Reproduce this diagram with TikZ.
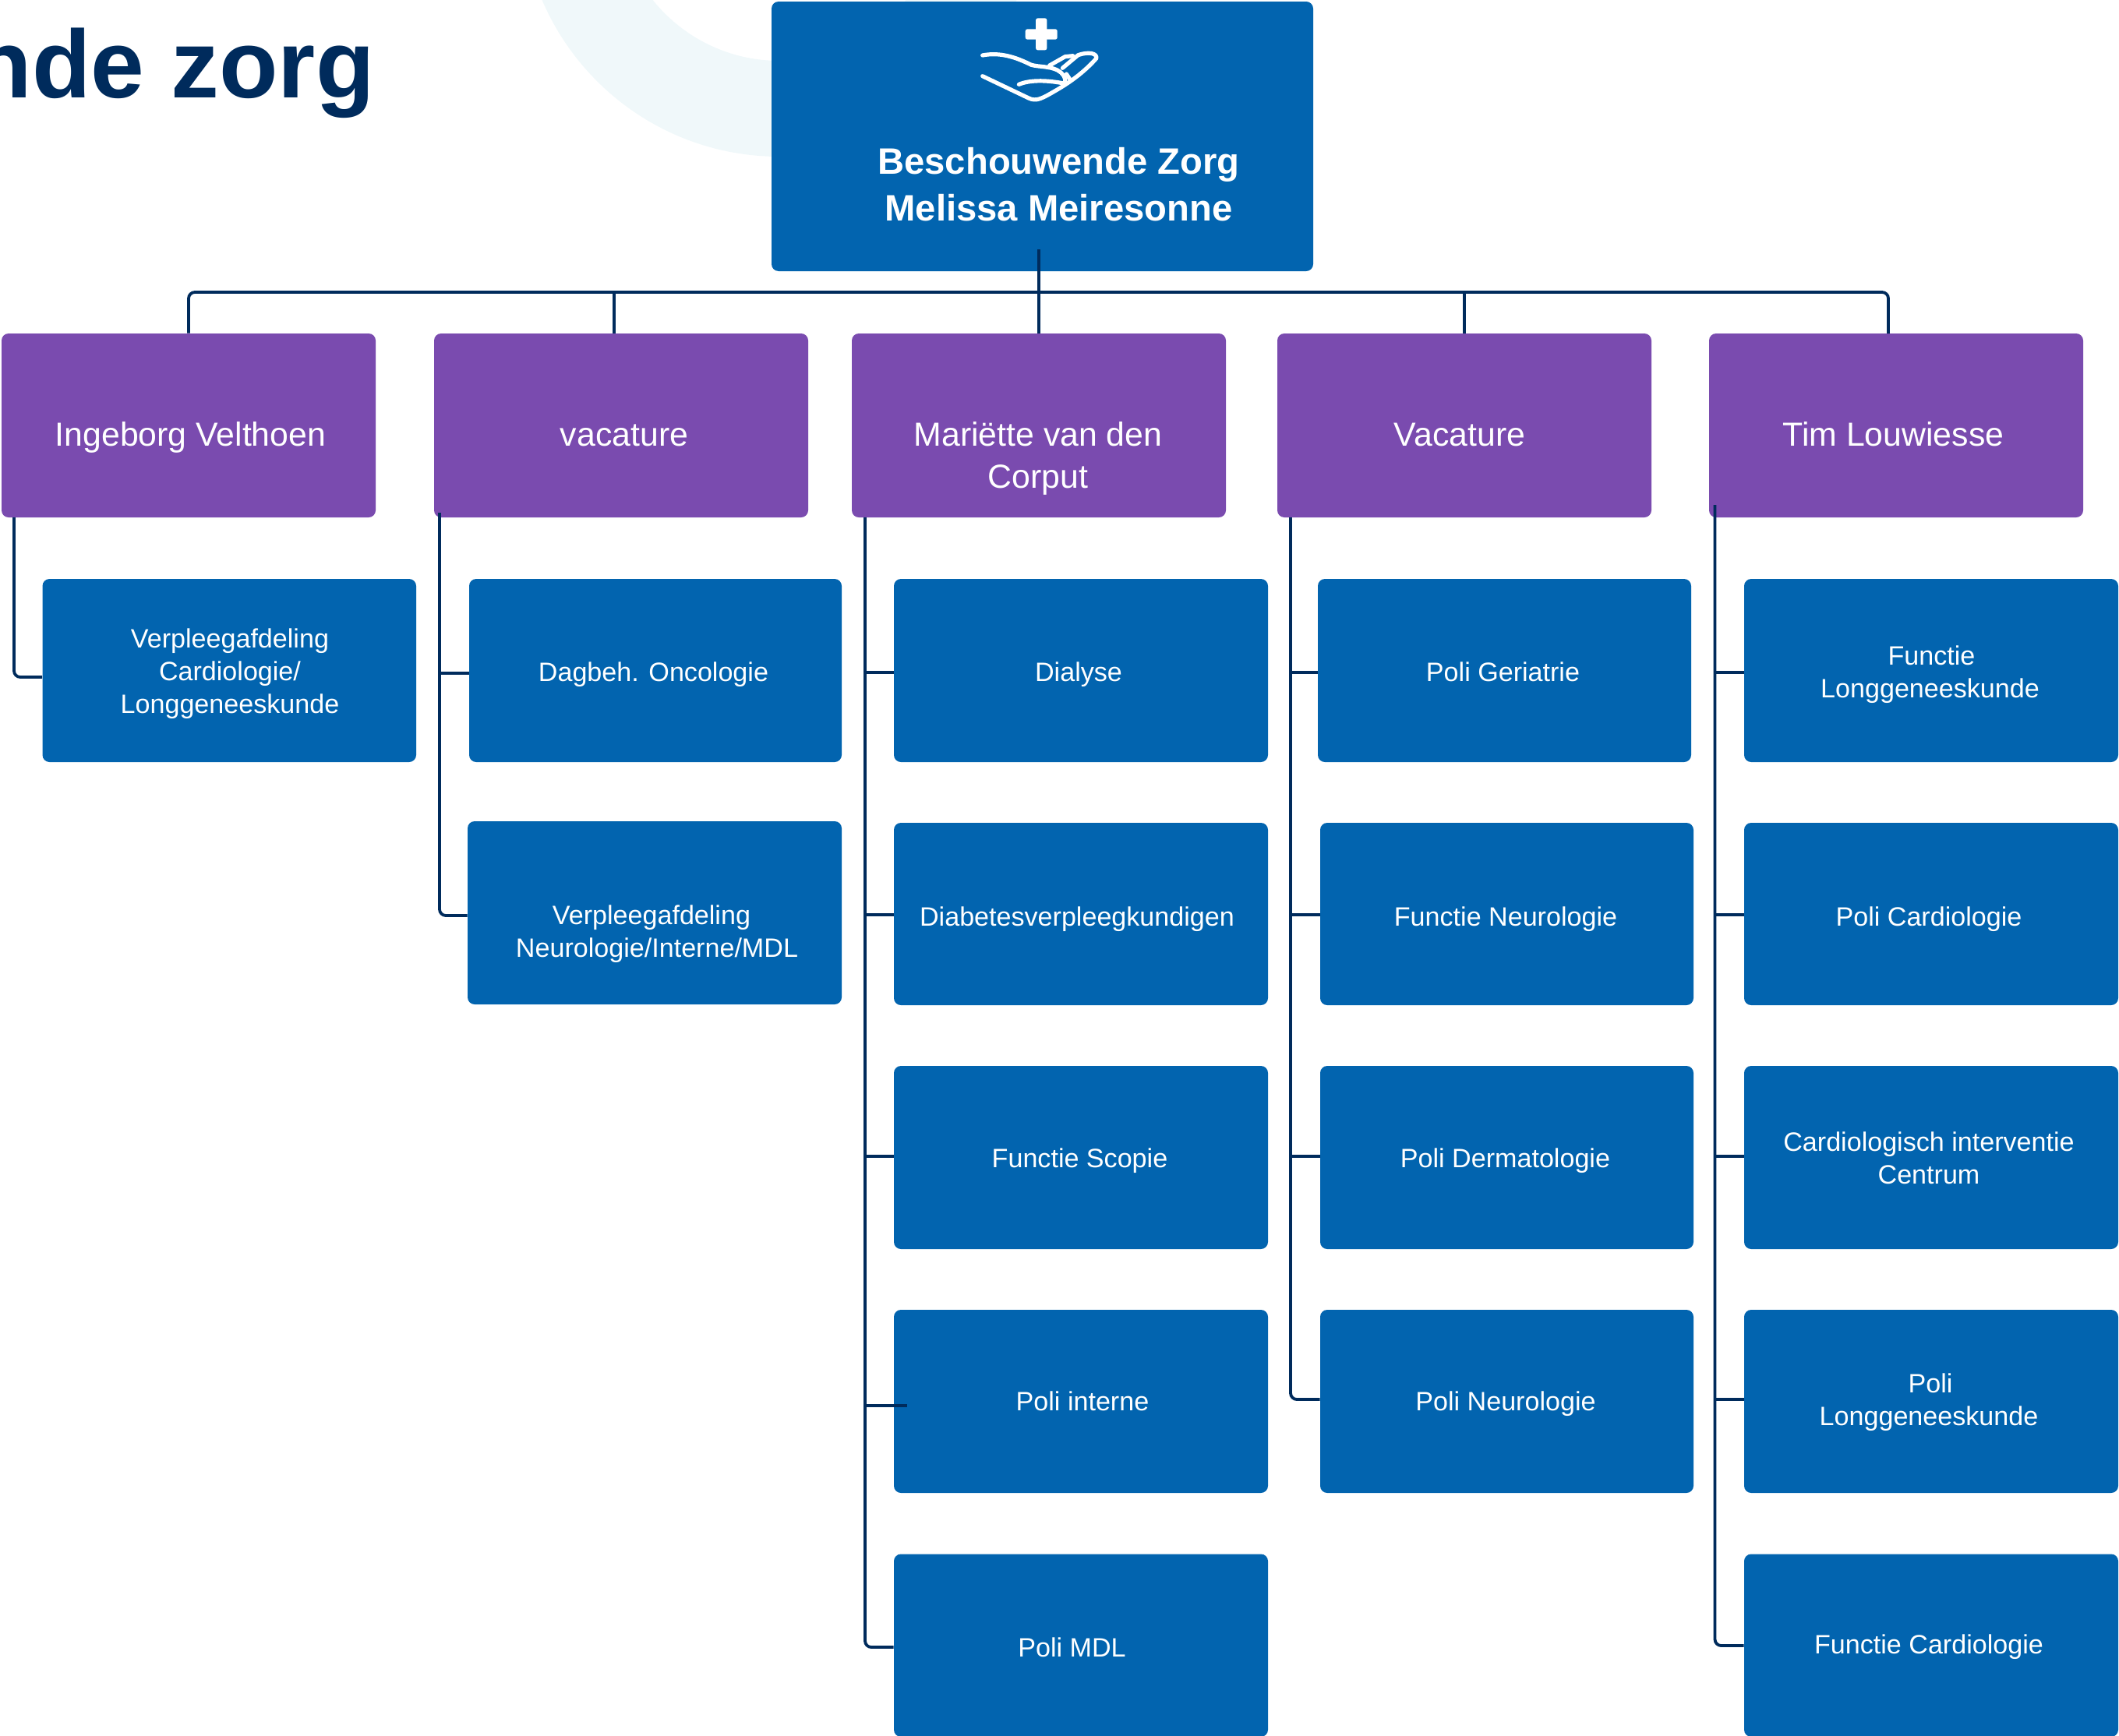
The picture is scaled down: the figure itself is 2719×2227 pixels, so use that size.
\documentclass[tikz,border=0pt]{standalone}
\usepackage{fontspec}
\setmainfont{Liberation Sans}
\definecolor{kidblue}{HTML}{0264AF}
\definecolor{mgrpurple}{HTML}{7A4BAF}
\definecolor{navy}{HTML}{002B5C}
\definecolor{pale}{HTML}{F0F8FA}
\tikzset{
  boxbase/.style={draw=none,rounded corners=4.5pt,inner sep=0pt},
  kidbox/.style={boxbase,fill=kidblue},
  mgrbox/.style={boxbase,fill=mgrpurple},
  kidtext/.style={text=white,align=center,inner sep=0pt,font=\fontsize{17.05}{21}\selectfont},
  mgrtext/.style={text=white,align=center,inner sep=0pt,font=\fontsize{21.4}{27}\selectfont},
  toptext/.style={text=white,align=center,inner sep=0pt,font=\bfseries\fontsize{23.6}{30}\selectfont},
  conn/.style={draw=navy,line width=1.9pt},
  elbow/.style={conn,rounded corners=4pt},
  icon/.style={draw=white,line width=2.6pt,line cap=round,line join=round},
}
% name, x1, y1, x2, y2, text x, text y, text, box style, text style
\newcommand{\orgbox}[9]{%
  \node[#9,minimum width={(#4-#2)*0.5pt},minimum height={(#5-#3)*0.5pt}] (#1) at ({(#2+#4)/2},{(#3+#5)/2}) {};
  \node[\orgtextstyle] (#1-t) at (#6,#7) {#8};}
\newcommand{\kid}[8]{\def\orgtextstyle{kidtext}\orgbox{#1}{#2}{#3}{#4}{#5}{#6}{#7}{#8}{kidbox}}
\newcommand{\mgr}[8]{\def\orgtextstyle{mgrtext}\orgbox{#1}{#2}{#3}{#4}{#5}{#6}{#7}{#8}{mgrbox}}
\begin{document}
\begin{tikzpicture}[x=0.5pt,y=-0.5pt]
\useasboundingbox (0,0) rectangle (2719,2227);
\clip (0,0) rectangle (2719,2227);
\fill[pale,even odd rule] (1000,-130) circle [radius=331] (1000,-130) circle [radius=208];
\node[anchor=base east,inner sep=0pt,text=navy,font=\bfseries\fontsize{61.8}{70}\selectfont] (title) at (481,125.5) {nde zorg};

\node[kidbox,minimum width=347.5pt,minimum height=173pt] (top) at (1337.5,175) {};
\node[toptext] (top-t) at (1358.5,237) {Beschouwende Zorg\\Melissa Meiresonne};

\mgr{p1}{2}{428}{482}{664}{244.5}{561}{Ingeborg Velthoen}
\mgr{p2}{557}{428}{1037}{664}{801}{559}{vacature}
\mgr{p3}{1093}{428}{1573}{664}{1332}{588}{Mariëtte van den\\Corput}
\mgr{p4}{1639}{428}{2119}{664}{1873}{558}{Vacature}
\mgr{p5}{2193}{428}{2673}{664}{2429.5}{557}{Tim Louwiesse}

\kid{k11}{54.5}{743}{534}{978}{295}{865}{Verpleegafdeling\\Cardiologie/\\Longgeneeskunde}
\kid{k21}{602}{743}{1080}{978}{838.5}{865.5}{Dagbeh. Oncologie}
\kid{k22}{600}{1054}{1080}{1289}{843}{1199}{Verpleegafdeling\hspace*{7pt}\\Neurologie/Interne/MDL}

\kid{k31}{1147}{743}{1627}{978}{1384}{865.5}{Dialyse}
\kid{k32}{1147}{1056}{1627}{1290}{1382}{1179.5}{Diabetesverpleegkundigen}
\kid{k33}{1147}{1368}{1627}{1603}{1385.5}{1489.5}{Functie Scopie}
\kid{k34}{1147}{1681}{1627}{1916}{1389}{1798}{Poli interne}
\kid{k35}{1147}{1994.5}{1627}{2229}{1375.5}{2114}{Poli MDL}

\kid{k41}{1691}{743}{2170}{978}{1928.5}{862}{Poli Geriatrie}
\kid{k42}{1694}{1056}{2173}{1290}{1932}{1179.5}{Functie Neurologie}
\kid{k43}{1694}{1368}{2173}{1603}{1931.5}{1489.5}{Poli Dermatologie}
\kid{k44}{1694}{1681}{2173}{1916}{1932}{1801.5}{Poli Neurologie}

\kid{k51}{2238}{743}{2718}{978}{2476.5}{865.5}{\hspace*{2pt}Functie\\Longgeneeskunde}
\kid{k52}{2238}{1056}{2718}{1290}{2475}{1179.5}{Poli Cardiologie}
\kid{k53}{2238}{1368}{2718}{1603}{2475}{1486}{Cardiologisch interventie\\Centrum}
\kid{k54}{2238}{1681}{2718}{1916}{2475}{1799.5}{\hspace*{2pt}Poli\\Longgeneeskunde}
\kid{k55}{2238}{1994.5}{2718}{2229}{2475}{2113.5}{Functie Cardiologie}

% icon
\begin{scope}[x=0.16667pt,y=-0.16667pt,shift={(3450,0)}]
  \fill[white,rounded corners=1.3pt] (497,112) rectangle (620,152);
  \fill[white,rounded corners=1.3pt] (537,70) rectangle (580,193);
  \draw[icon] (332,213) .. controls (400,200) and (460,220) .. (520,250) .. controls (550,258) and (590,255) .. (620,270) .. controls (640,280) and (655,300) .. (650,320);
  \draw[icon] (332,293) -- (510,378) .. controls (540,392) and (560,380) .. (620,345) .. controls (680,310) and (730,270) .. (770,225) .. controls (775,205) and (740,198) .. (700,212) -- (640,262);
  \draw[icon] (590,252) -- (650,218) -- (680,215);
  \draw[icon] (655,285) -- (668,305);
  \draw[icon] (472,325) .. controls (520,305) and (590,310) .. (650,322);
\end{scope}

% upper connectors
\coordinate (bus) at (1333,375);
\coordinate (topfoot) at (1333,320);
\coordinate (p2top) at (788,428);
\coordinate (p5top) at (2423,428);
\draw[conn] (topfoot) -- (p3.north);
\draw[elbow] (p1.north) |- (bus) -| (p5top);
\draw[conn] (p2top) -- (p2top |- bus);
\draw[conn] (p4.north) -- (p4.north |- bus);

% trunks
\coordinate (t1) at (18,664);
\coordinate (t2) at (564,658);
\coordinate (t3) at (1110,664);
\coordinate (t4) at (1656,664);
\coordinate (t5) at (2200.5,648);
\coordinate (j11) at (18,869);
\coordinate (j21) at (564,864);
\coordinate (j22) at (564,1175);
\coordinate (j31) at (1110,863);
\coordinate (j32) at (1110,1174);
\coordinate (j33) at (1110,1484);
\coordinate (j34) at (1110,1804);
\coordinate (j34e) at (1164,1804);
\coordinate (j35) at (1110,2114);
\coordinate (j41) at (1656,863);
\coordinate (j42) at (1656,1174);
\coordinate (j43) at (1656,1484);
\coordinate (j44) at (1656,1796);
\coordinate (j51) at (2200.5,863);
\coordinate (j52) at (2200.5,1174);
\coordinate (j53) at (2200.5,1484);
\coordinate (j54) at (2200.5,1796);
\coordinate (j55) at (2200.5,2112);

\draw[elbow] (t1) |- (k11.west |- j11);
\draw[elbow] (t2) |- (k22.west |- j22);
\draw[conn] (j21) -- (k21.west |- j21);
\draw[elbow] (t3) |- (k35.west |- j35);
\draw[conn] (j31) -- (k31.west |- j31);
\draw[conn] (j32) -- (k32.west |- j32);
\draw[conn] (j33) -- (k33.west |- j33);
\draw[conn] (j34) -- (j34e);
\draw[elbow] (t4) |- (k44.west |- j44);
\draw[conn] (j41) -- (k41.west |- j41);
\draw[conn] (j42) -- (k42.west |- j42);
\draw[conn] (j43) -- (k43.west |- j43);
\draw[elbow] (t5) |- (k55.west |- j55);
\draw[conn] (j51) -- (k51.west |- j51);
\draw[conn] (j52) -- (k52.west |- j52);
\draw[conn] (j53) -- (k53.west |- j53);
\draw[conn] (j54) -- (k54.west |- j54);
\end{tikzpicture}
\end{document}
